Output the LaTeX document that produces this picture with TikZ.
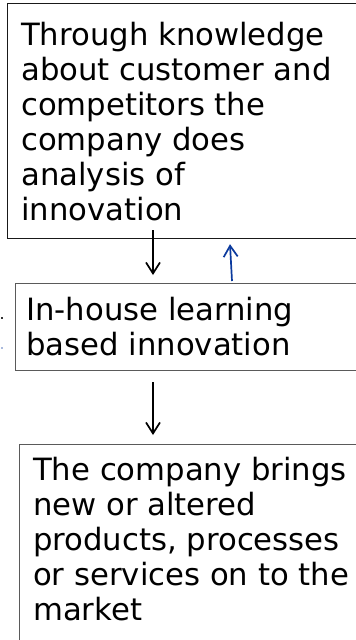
\documentclass[tikz,border=0pt]{standalone}
\usepackage{fontspec}
\setmainfont{DejaVu Sans}
\usetikzlibrary{arrows.meta}
\definecolor{boxgray}{HTML}{5A5A5A}
\definecolor{fbblue}{HTML}{0B3A9E}
\tikzset{
  panel/.style={draw=#1, line width=1.2pt, fill=white, inner sep=0pt, anchor=north west},
  panel/.default=black,
  % anchored at the baseline of the last line
  panetext/.style={anchor=base west, align=left, inner sep=0pt,
    font=\fontsize{30.7}{35}\selectfont},
  flow/.style={line width=1.7pt, -{Straight Barb[length=11pt,width=14pt,line width=1.7pt]}},
}
\begin{document}
\begin{tikzpicture}[x=1pt,y=-1pt]
  \useasboundingbox (0,0) rectangle (356,640);
  \clip (0,0) rectangle (356,640);
  \fill[white] (0,0) rectangle (356,640);

  % three stacked boxes, running past the right and bottom edges
  \node[panel=black!90, minimum width=370pt, minimum height=235pt] (kbox) at (7,3) {};
  \node[panel=boxgray, minimum width=370pt, minimum height=87pt] (lbox) at (15,283) {};
  \node[panel=boxgray, minimum width=370pt, minimum height=220pt] (mbox) at (19,444) {};

  % box texts
  \node[panetext] (ktext) at (21,220) {Through knowledge\\about customer and\\competitors the\\company does\\analysis of\\innovation};
  \node[panetext] (ltext) at (26,355) {In-house learning\\based innovation};
  \node[panetext] (mtext) at (33,620) {The company brings\\new or altered\\products, processes\\or services on to the\\market};

  % connectors
  \draw[flow] ([xshift=146pt,yshift=9pt]kbox.south west) -- ([xshift=138pt,yshift=8pt]lbox.north west);
  \draw[flow, fbblue] ([xshift=217pt,yshift=2pt]lbox.north west) -- ([xshift=223pt,yshift=-5pt]kbox.south west);
  \draw[flow] ([xshift=138pt,yshift=-11pt]lbox.south west) -- ([xshift=134pt,yshift=9pt]mbox.north west);

  % stray stubs at the left edge
  \fill[black!80] (1,317) rectangle (3,319);
  \fill[fbblue!35] (1,347) rectangle (3,348.5);
\end{tikzpicture}
\end{document}
